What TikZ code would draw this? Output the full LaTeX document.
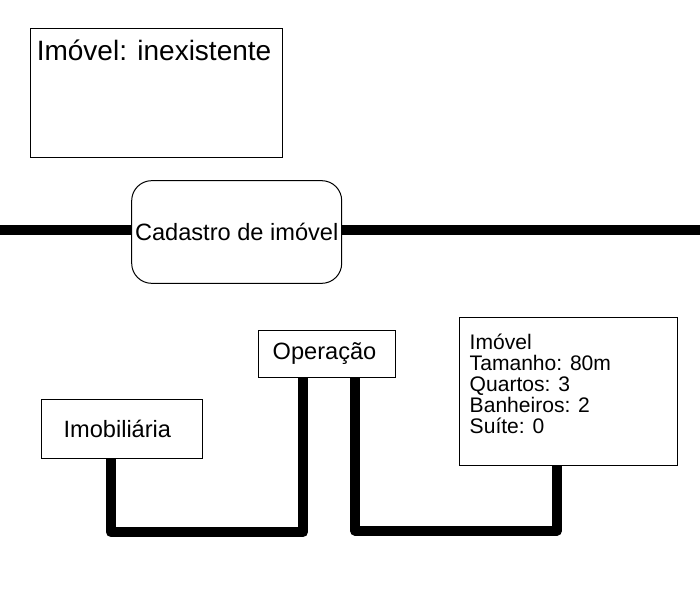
\documentclass[tikz,border=0pt]{standalone}
\usepackage{fontspec}
\setmainfont{Liberation Sans}
\usetikzlibrary{positioning}

\tikzset{
  box/.style={draw=black, line width=0.75pt, rectangle, inner sep=0pt, fill=white},
  stagebox/.style={box, rounded corners=15pt},
  txt/.style={font=\fontsize{17.7pt}{20pt}\selectfont},
  wire/.style={draw=black, line width=7.5pt, line join=round}
}

\begin{document}
\begin{tikzpicture}[x=0.75pt, y=-0.75pt]
		\useasboundingbox (0,0) rectangle (700,600);
		% estado do imovel
		\node [box, minimum width=189pt, minimum height=96.5pt] (state) at (156.9,93.3) {};
		\node [anchor=north west, inner sep=0pt, font=\fontsize{21pt}{24pt}\selectfont] (stateText) at ([xshift=4.6pt, yshift=-8.4pt]state.north west) {Imóvel: inexistente};
		% linha do processo
		\node [stagebox, txt, minimum width=157.5pt, minimum height=77pt] (cad) at (236.7,232) {Cadastro de imóvel};
		\coordinate (lineL) at (0,230);
		\coordinate (lineR) at (700,230);
		\draw [line width=7.5pt] (lineL) -- (lineL -| cad.west);
		\draw [line width=7.5pt] (lineR -| cad.east) -- (lineR);
		% atores
		\node [box, txt, minimum width=102.75pt, minimum height=35.25pt] (oper) at (326.5,353.6) {\hspace*{-3pt}Operação};
		\node [box, txt, minimum width=120.5pt, minimum height=44.5pt] (imob) at (122,429) {\hspace*{-7pt}Imobiliária};
		\node [box, minimum width=163.5pt, minimum height=110.75pt] (prop) at (568.3,391.2) {};
		\node [anchor=north west, inner sep=0pt, align=left, font=\fontsize{15.8pt}{15.75pt}\selectfont] (propText) at ([xshift=8pt, yshift=-12.6pt]prop.north west) {Imóvel\\Tamanho: 80m\\Quartos: 3\\Banheiros: 2\\Suíte: 0};
		% ligacoes
		\draw [wire] ([xshift=-8.4pt]imob.south) -- ++(0,73) -| ([xshift=-17.6pt]oper.south);
		\draw [wire] ([xshift=21.4pt]oper.south) -- ++(0,153) -| ([xshift=-8.5pt]prop.south);
	\end{tikzpicture}
\end{document}
